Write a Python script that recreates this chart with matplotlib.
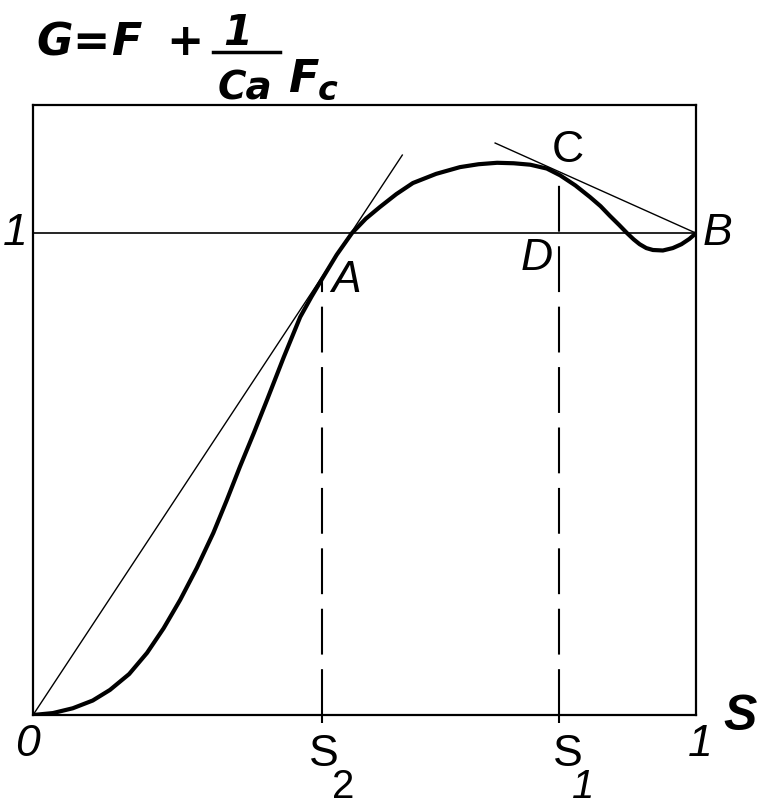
import matplotlib
matplotlib.use('Agg')
import matplotlib.pyplot as plt
from matplotlib.lines import Line2D

plt.rcParams['font.family'] = ['Liberation Sans', 'DejaVu Sans']

# curve G(s)
s_vals = [0.0, 0.03, 0.06, 0.09, 0.116, 0.145, 0.172, 0.197, 0.222, 0.247,
          0.272, 0.292, 0.312, 0.333, 0.353, 0.378, 0.403, 0.42, 0.436, 0.458,
          0.481, 0.502, 0.523, 0.548, 0.573, 0.608, 0.644, 0.672, 0.70, 0.725,
          0.75, 0.775, 0.795, 0.818, 0.84, 0.856, 0.87, 0.884, 0.896, 0.906,
          0.915, 0.925, 0.935, 0.95, 0.965, 0.978, 0.99, 1.0]
g_vals = [0.0, 0.004, 0.014, 0.03, 0.052, 0.085, 0.129, 0.18, 0.239, 0.305,
          0.378, 0.445, 0.515, 0.585, 0.654, 0.742, 0.826, 0.868, 0.905, 0.955,
          1.0, 1.03, 1.054, 1.081, 1.104, 1.123, 1.137, 1.143, 1.146, 1.145,
          1.142, 1.134, 1.12, 1.099, 1.075, 1.056, 1.036, 1.017, 1.0, 0.987,
          0.977, 0.969, 0.965, 0.964, 0.969, 0.977, 0.988, 1.0]

# tangent from origin through A, tangent through C to B
tan_a_x = [0.0, 0.557]
tan_a_y = [0.0, 1.162]
tan_c_x = [0.697, 1.0]
tan_c_y = [1.187, 1.0]

s2, g_a = 0.436, 0.905
s1, g_c = 0.793, 1.122

W, H = 761, 808
fig = plt.figure(figsize=(W / 100, H / 100), dpi=100)
ax = fig.add_axes([0.0434, 0.1151, 0.8712, 0.755])
ax.set_xlim(0, 1)
ax.set_ylim(0, 1.266)

ax.plot(s_vals, g_vals, color='black', lw=3.0, solid_joinstyle='round',
        solid_capstyle='round', zorder=3)
ax.plot(tan_a_x, tan_a_y, color='black', lw=1.0)
ax.plot(tan_c_x, tan_c_y, color='black', lw=1.0)
ax.axhline(1.0, color='black', lw=1.2)
ax.plot([s2, s2], [0, g_a], color='black', lw=1.5, ls=(0, (22, 7)))
ax.plot([s1, s1], [0, g_c], color='black', lw=1.5, ls=(0, (22, 7)))

for sp in ax.spines.values():
    sp.set_linewidth(1.6)
ax.set_xticks([s2, s1])
ax.set_xticklabels([])
ax.set_yticks([])
ax.tick_params(axis='x', direction='out', length=6, width=1.5)

fs = 32
ax.text(-0.008, -0.062, '0', style='italic', fontsize=fs, ha='center', va='center', clip_on=False)
ax.text(1.006, -0.062, '1', style='italic', fontsize=fs, ha='center', va='center', clip_on=False)
ax.text(-0.027, 1.0, '1', style='italic', fontsize=fs, ha='center', va='center', clip_on=False)
ax.text(0.438, -0.081, 'S', fontsize=fs, ha='center', va='center', clip_on=False)
ax.text(0.468, -0.150, '2', fontsize=29, ha='center', va='center', clip_on=False)
ax.text(0.807, -0.081, 'S', fontsize=fs, ha='center', va='center', clip_on=False)
ax.text(0.830, -0.150, '1', style='italic', fontsize=29, ha='center', va='center', clip_on=False)
ax.text(1.066, -0.005, 'S', style='italic', weight='bold', fontsize=36, ha='center', va='center', clip_on=False)
ax.text(0.472, 0.902, 'A', style='italic', fontsize=fs, ha='center', va='center')
ax.text(1.033, 1.0, 'B', style='italic', fontsize=fs, ha='center', va='center', clip_on=False)
ax.text(0.807, 1.172, 'C', fontsize=fs, ha='center', va='center')
ax.text(0.760, 0.948, 'D', style='italic', fontsize=fs, ha='center', va='center')

# title G = F + (1/Ca) F_c, set piece by piece (pixel positions from the top left)
def put(px, py, s, size, ha='left'):
    fig.text(px / W, 1 - py / H, s, fontsize=size, style='italic', weight='bold',
             family='DejaVu Sans', ha=ha, va='baseline')

put(36, 55, 'G', 32)
put(91, 55, '=', 32, ha='center')
put(111, 55, 'F', 32)
put(185, 55, '+', 32, ha='center')
put(238, 45, '1', 30, ha='center')
fig.add_artist(Line2D([213 / W, 280 / W], [1 - 52 / H, 1 - 52 / H],
                      color='black', lw=2.5))
put(245, 99, 'Ca', 28, ha='center')
put(288, 92, 'F', 32)
put(318, 100, 'c', 24)

fig.savefig('out.png', dpi=100)
